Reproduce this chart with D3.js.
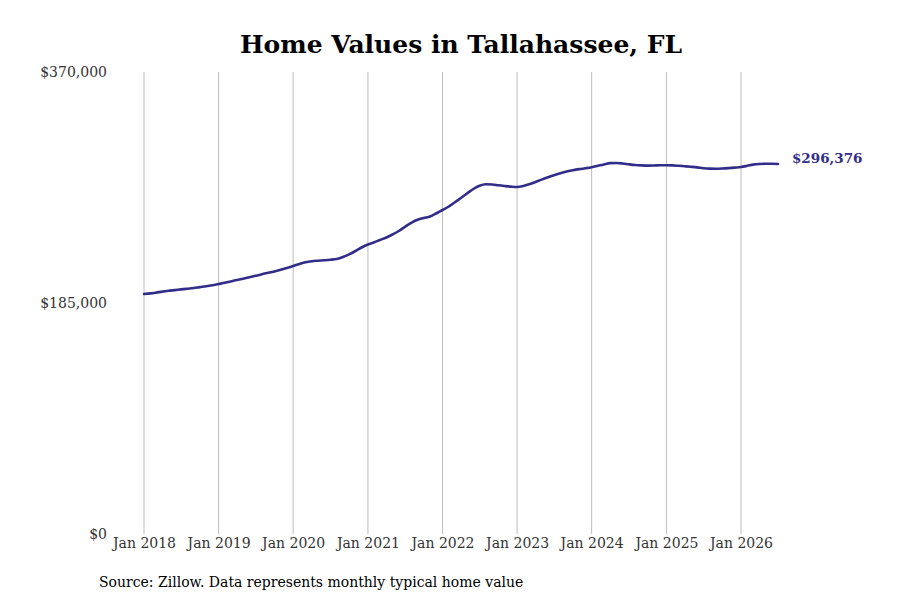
<!DOCTYPE html>
<html>
<head>
<meta charset="utf-8">
<script src="https://cdn.jsdelivr.net/npm/d3@7/dist/d3.min.js"></script>
<style>
  html, body { margin: 0; padding: 0; background: #fff; }
  svg { display: block; }
</style>
</head>
<body>
<svg id="chart" width="900" height="600"></svg>
<script>
const title = "Home Values in Tallahassee, FL";
const sourceText = "Source: Zillow. Data represents monthly typical home value";
const startMonth = "2018-01";
const values = [
  192209,192689,193330,194131,194772,195332,195893,196453,197014,197735,198456,199256,
  200218,201179,202220,203421,204462,205583,206785,208066,209187,210309,211590,213031,
  214633,216235,217596,218477,218878,219198,219599,220239,221841,224003,226646,229449,
  231852,233614,235456,237458,239861,242664,246027,249231,251633,253075,254276,256679,
  259482,262285,265488,269092,272696,276300,278863,280064,279904,279263,278703,278222,
  277902,278703,280064,281906,283828,285670,287352,288874,290235,291357,292237,292878,
  293679,294880,296002,297043,297123,296722,296082,295521,295201,295041,295121,295281,
  295361,295201,294880,294480,294079,293599,292958,292638,292558,292718,293038,293439,
  293919,294880,295842,296322,296482,296482,296376
];
const yTicks = [0, 185000, 370000];
const xTickYears = [2018, 2019, 2020, 2021, 2022, 2023, 2024, 2025, 2026];
const lastLabel = "$296,376";

const parse = d3.timeParse("%Y-%m");
const t0 = parse(startMonth);
const data = values.map((v, i) => ({ date: d3.timeMonth.offset(t0, i), value: v }));

const svg = d3.select("#chart");
const font = "'DejaVu Serif', serif";

const x = d3.scaleTime()
  .domain([new Date(2018, 0, 1), new Date(2026, 0, 1)])
  .range([144, 741]);
const y = d3.scaleLinear().domain([0, 370000]).range([534, 72]);

// vertical gridlines
svg.append("g").selectAll("line")
  .data(xTickYears)
  .join("line")
  .attr("x1", d => x(new Date(d, 0, 1)))
  .attr("x2", d => x(new Date(d, 0, 1)))
  .attr("y1", y(370000))
  .attr("y2", y(0))
  .attr("stroke", "#bdbdbd")
  .attr("stroke-width", 1);

// x axis labels
const xAxis = d3.axisBottom(x)
  .tickValues(xTickYears.map(d => new Date(d, 0, 1)))
  .tickFormat(d3.timeFormat("Jan %Y"))
  .tickSize(0)
  .tickPadding(4);
const gx = svg.append("g").attr("transform", `translate(0,${y(0)})`).call(xAxis);
gx.select(".domain").remove();
gx.selectAll("text").attr("font-family", font).attr("font-size", 14).attr("fill", "#333");

// y axis labels
const yAxis = d3.axisLeft(y)
  .tickValues(yTicks)
  .tickFormat(d => "$" + d3.format(",")(d))
  .tickSize(0)
  .tickPadding(0);
const gy = svg.append("g").attr("transform", "translate(107,0)").call(yAxis);
gy.select(".domain").remove();
gy.selectAll("text").attr("font-family", font).attr("font-size", 14).attr("fill", "#333");

// line
const line = d3.line()
  .x(d => x(d.date))
  .y(d => y(d.value))
  .curve(d3.curveMonotoneX);
svg.append("path")
  .datum(data)
  .attr("d", line)
  .attr("fill", "none")
  .attr("stroke", "#312d88")
  .attr("stroke-width", 2.6)
  .attr("stroke-linejoin", "round")
  .attr("stroke-linecap", "round");

// last value label
const last = data[data.length - 1];
svg.append("text")
  .attr("x", x(last.date) + 14)
  .attr("y", y(last.value) - 6)
  .attr("dy", "0.35em")
  .attr("font-family", font)
  .attr("font-size", 13.5)
  .attr("font-weight", "bold")
  .attr("fill", "#312d88")
  .text(lastLabel);

// title
svg.append("text")
  .attr("x", 461)
  .attr("y", 44)
  .attr("dy", "0.35em")
  .attr("text-anchor", "middle")
  .attr("font-family", font)
  .attr("font-size", 25)
  .attr("font-weight", "bold")
  .attr("fill", "#000")
  .text(title);

// source
svg.append("text")
  .attr("x", 99)
  .attr("y", 582)
  .attr("dy", "0.35em")
  .attr("font-family", font)
  .attr("font-size", 14)
  .attr("fill", "#000")
  .text(sourceText);
</script>
</body>
</html>
